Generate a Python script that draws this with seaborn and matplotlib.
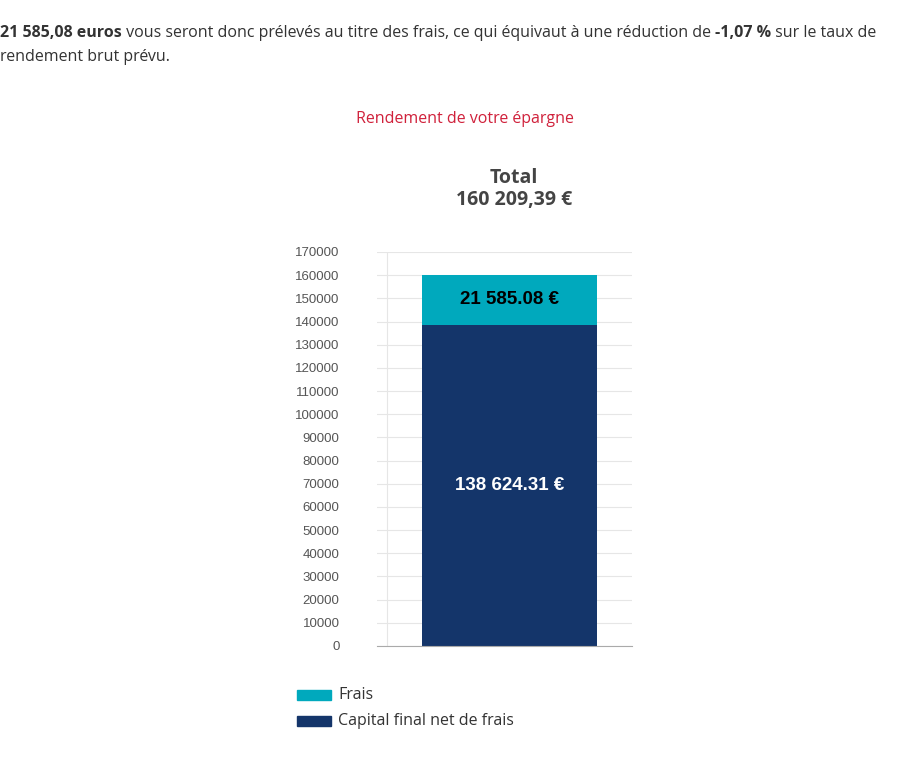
import matplotlib
matplotlib.use("Agg")
import matplotlib.pyplot as plt
import seaborn as sns
import pandas as pd
from matplotlib.patches import Rectangle

# données
categories = ["Épargne"]
capital_net = [138624.31]
frais = [21585.08]
total_label = "160 209,39 €"
series_names = ["Frais", "Capital final net de frais"]
yticks = list(range(0, 170001, 10000))

NAVY = "#14356a"
CYAN = "#00a9bd"

W, H = 918, 760
fig = plt.figure(figsize=(W / 100, H / 100), dpi=100)

def px(x, y):
    return x / W, 1 - y / H

# texte d'en-tête (mélange gras / normal), morceaux placés l'un après l'autre
txt_kw = dict(fontsize=11.5, family="Open Sans", color="#333333", va="baseline")
line1 = [("21 585,08 euros", "bold"), (" vous seront donc prélevés au titre des frais, ce qui équivaut à une réduction de ", "normal"),
         ("-1,07 %", "bold"), (" sur le taux de", "normal")]
renderer = fig.canvas.get_renderer()
x_px = 0
for s, w in line1:
    t = fig.text(x_px / W, 1 - 37 / H, s, fontweight=w, **txt_kw)
    x_px = t.get_window_extent(renderer).x1
fig.text(*px(0, 61), "rendement brut prévu.", **txt_kw)

fig.text(*px(465, 123), "Rendement de votre épargne", ha="center", fontsize=11.5, family="Open Sans", color="#d0213b")
fig.text(*px(514, 183), "Total", ha="center", fontsize=14, fontweight="bold", family="Open Sans", color="#444444")
fig.text(*px(514, 205), total_label, ha="center", fontsize=14, fontweight="bold", family="Open Sans", color="#444444")

# graphique
ax = fig.add_axes([377 / W, 1 - 646 / H, (632 - 377) / W, (646 - 252) / H])
df = pd.DataFrame({"cat": categories, "total": [c + f for c, f in zip(capital_net, frais)], "net": capital_net})
sns.barplot(data=df, x="cat", y="total", color=CYAN, width=0.686, saturation=1, ax=ax)
sns.barplot(data=df, x="cat", y="net", color=NAVY, width=0.686, saturation=1, ax=ax)
ax.set_xlim(-0.52, 0.48)
ax.set_ylim(0, 170000)
ax.set_yticks(yticks)
ax.set_yticklabels([str(v) for v in yticks], fontsize=9.5, family="Liberation Sans", color="#555555")
ax.set_xticks([])
ax.set_xlabel("")
ax.set_ylabel("")
ax.grid(axis="y", color="#e6e6e6", lw=0.8)
ax.set_axisbelow(True)
for sp in ["top", "right", "left"]:
    ax.spines[sp].set_visible(False)
ax.spines["bottom"].set_color("#aaaaaa")
ax.tick_params(axis="y", length=0, pad=27)
ax.axvline(-0.52 + 10 / 255, color="#e6e6e6", lw=0.8, zorder=0)

ax.text(0, capital_net[0] + frais[0] / 2, "21 585.08 €", ha="center", va="center", fontsize=13.5, fontweight="bold", family="Liberation Sans", color="black")
ax.text(0, capital_net[0] / 2, "138 624.31 €", ha="center", va="center", fontsize=13.5, fontweight="bold", family="Liberation Sans", color="white")

# légende
for i, (name, col) in enumerate(zip(series_names, [CYAN, NAVY])):
    y = 695 + 26 * i
    fig.patches.append(Rectangle(px(297, y + 5), 34 / W, 10 / H, transform=fig.transFigure, color=col, figure=fig))
    fig.text(*px(338, y), name, va="center", fontsize=11.5, family="Open Sans", color="#333333")

fig.savefig("out.png", dpi=100)
